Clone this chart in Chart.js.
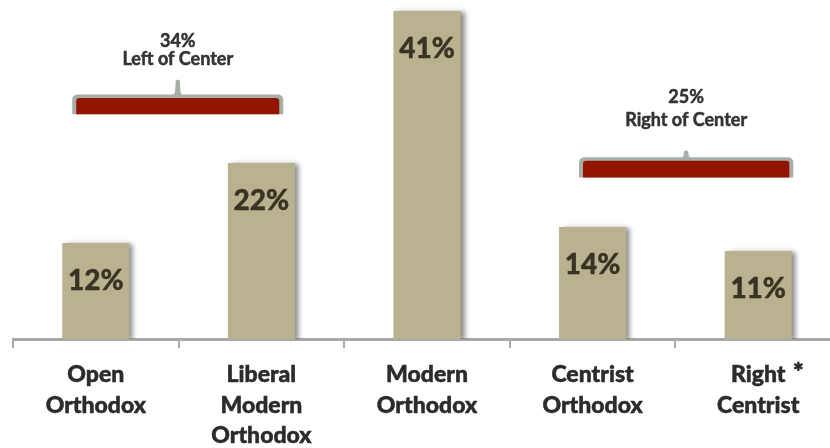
<!DOCTYPE html>
<html>
<head>
<meta charset="utf-8">
<script src="https://cdn.jsdelivr.net/npm/chart.js@4/dist/chart.umd.min.js"></script>
<style>
html,body{margin:0;padding:0;overflow:hidden;background:#fff;}
#wrap{width:841px;height:448px;position:relative;}
</style>
</head>
<body>
<div id="wrap"><canvas id="c"></canvas></div>
<script>
const categories = [["Open","Orthodox"],["Liberal","Modern","Orthodox"],["Modern","Orthodox"],["Centrist","Orthodox"],["Right","Centrist"]];
const values = [12, 22, 41, 14, 11];
const valueLabels = ["12%", "22%", "41%", "14%", "11%"];
const groupTitles = [["34%", "Left of Center"], ["25%", "Right of Center"]];
const groupSpans = [[0, 1], [3, 4]];

const FONT = "Lato, 'Open Sans', sans-serif";

const shadowPlugin = {
  id: 'barShadow',
  beforeDatasetsDraw(chart) {
    const ctx = chart.ctx;
    ctx.save();
    ctx.shadowColor = 'rgba(0,0,0,0.45)';
    ctx.shadowBlur = 5;
    ctx.shadowOffsetX = 4;
    ctx.shadowOffsetY = 1;
  },
  afterDatasetsDraw(chart) {
    chart.ctx.restore();
  }
};

function heavyText(ctx, t, x, y) {
  ctx.fillText(t, x, y);
  ctx.strokeText(t, x, y);
}

const labelPlugin = {
  id: 'extras',
  afterDraw(chart) {
    const ctx = chart.ctx;
    const meta = chart.getDatasetMeta(0);
    const xs = chart.scales.x, ys = chart.scales.y;
    ctx.save();
    ctx.lineJoin = 'round';
    // value labels
    ctx.fillStyle = '#3a3325';
    ctx.strokeStyle = '#3a3325';
    ctx.lineWidth = 0.4;
    ctx.font = "900 28px " + FONT;
    ctx.textAlign = 'center';
    ctx.textBaseline = 'middle';
    meta.data.forEach((bar, i) => {
      heavyText(ctx, valueLabels[i], bar.x, bar.y + 38);
    });
    // asterisk next to "Right"
    ctx.fillStyle = '#2b2b2b';
    ctx.strokeStyle = '#2b2b2b';
    ctx.lineWidth = 0.7;
    ctx.font = "900 25px " + FONT;
    heavyText(ctx, "*", xs.getPixelForValue(4) + 40, 373);

    // braces
    const step = xs.getPixelForValue(1) - xs.getPixelForValue(0);
    const braces = [
      {span: groupSpans[0], l: -0.13, r: 0.12, top: 30.25, bot: 28.1, tip: 18, gap: [32, 14]},
      {span: groupSpans[1], l: -0.07, r: 0.2, top: 22.4, bot: 20.2, tip: 10, gap: [47, 24]}
    ];
    braces.forEach((b, k) => {
      const x0 = xs.getPixelForValue(b.span[0]) + b.l * step;
      const x1 = xs.getPixelForValue(b.span[1]) + b.r * step;
      const yt = ys.getPixelForValue(b.top), yb = ys.getPixelForValue(b.bot);
      const cx = (x0 + x1) / 2;
      // outline
      ctx.fillStyle = '#a6aea6';
      ctx.beginPath();
      ctx.moveTo(x0 - 2, yb);
      ctx.lineTo(x0 - 2, yt + 3);
      ctx.quadraticCurveTo(x0 - 2, yt - 2.5, x0 + 4, yt - 2.5);
      ctx.lineTo(cx - 4, yt - 2.5);
      ctx.quadraticCurveTo(cx - 2.2, yt - 3, cx - 2.2, yt - b.tip + 2);
      ctx.quadraticCurveTo(cx, yt - b.tip - 1, cx + 2.2, yt - b.tip + 2);
      ctx.quadraticCurveTo(cx + 2.2, yt - 3, cx + 4, yt - 2.5);
      ctx.lineTo(x1 - 4, yt - 2.5);
      ctx.quadraticCurveTo(x1 + 2, yt - 2.5, x1 + 2, yt + 3);
      ctx.lineTo(x1 + 2, yb);
      ctx.closePath();
      ctx.fill();
      // red fill
      ctx.fillStyle = '#931400';
      ctx.beginPath();
      ctx.moveTo(x0 + 2, yb);
      ctx.lineTo(x0 + 2, yt + 4);
      ctx.quadraticCurveTo(x0 + 2, yt + 1, x0 + 5, yt + 1);
      ctx.lineTo(x1 - 5, yt + 1);
      ctx.quadraticCurveTo(x1 - 2, yt + 1, x1 - 2, yt + 4);
      ctx.lineTo(x1 - 2, yb);
      ctx.closePath();
      ctx.fill();
      // titles
      ctx.fillStyle = '#333';
      ctx.strokeStyle = '#333';
      ctx.lineWidth = 0.5;
      ctx.textAlign = 'center';
      ctx.textBaseline = 'alphabetic';
      const tipTop = yt - b.tip;
      ctx.font = "bold 18px " + FONT;
      heavyText(ctx, groupTitles[k][0], cx, tipTop - b.gap[0]);
      heavyText(ctx, groupTitles[k][1], cx, tipTop - b.gap[1]);
    });
    ctx.restore();
  }
};

new Chart(document.getElementById('c'), {
  type: 'bar',
  data: {
    labels: categories,
    datasets: [{
      data: values,
      backgroundColor: '#b8b28f',
      borderWidth: 0,
      barPercentage: 0.405,
      categoryPercentage: 1
    }]
  },
  options: {
    responsive: true,
    maintainAspectRatio: false,
    animation: false,
    devicePixelRatio: 1,
    layout: {padding: {left: 13, right: 0, top: 3, bottom: 0}},
    plugins: {legend: {display: false}, tooltip: {enabled: false}},
    scales: {
      y: {display: false, min: 0, max: 42},
      x: {
        afterFit(s) { s.height = 109; },
        border: {display: true, color: '#a8a8a8', width: 3},
        grid: {offset: true, drawOnChartArea: false, drawTicks: true, tickLength: 9, color: '#a8a8a8', lineWidth: 2},
        ticks: {
          color: '#2b2b2b',
          textStrokeColor: '#2b2b2b',
          textStrokeWidth: 0.5,
          font: {family: FONT, size: 23, weight: '900', lineHeight: 1.34},
          padding: 11,
          maxRotation: 0,
          autoSkip: false
        }
      }
    }
  },
  plugins: [shadowPlugin, labelPlugin]
});
</script>
</body>
</html>
